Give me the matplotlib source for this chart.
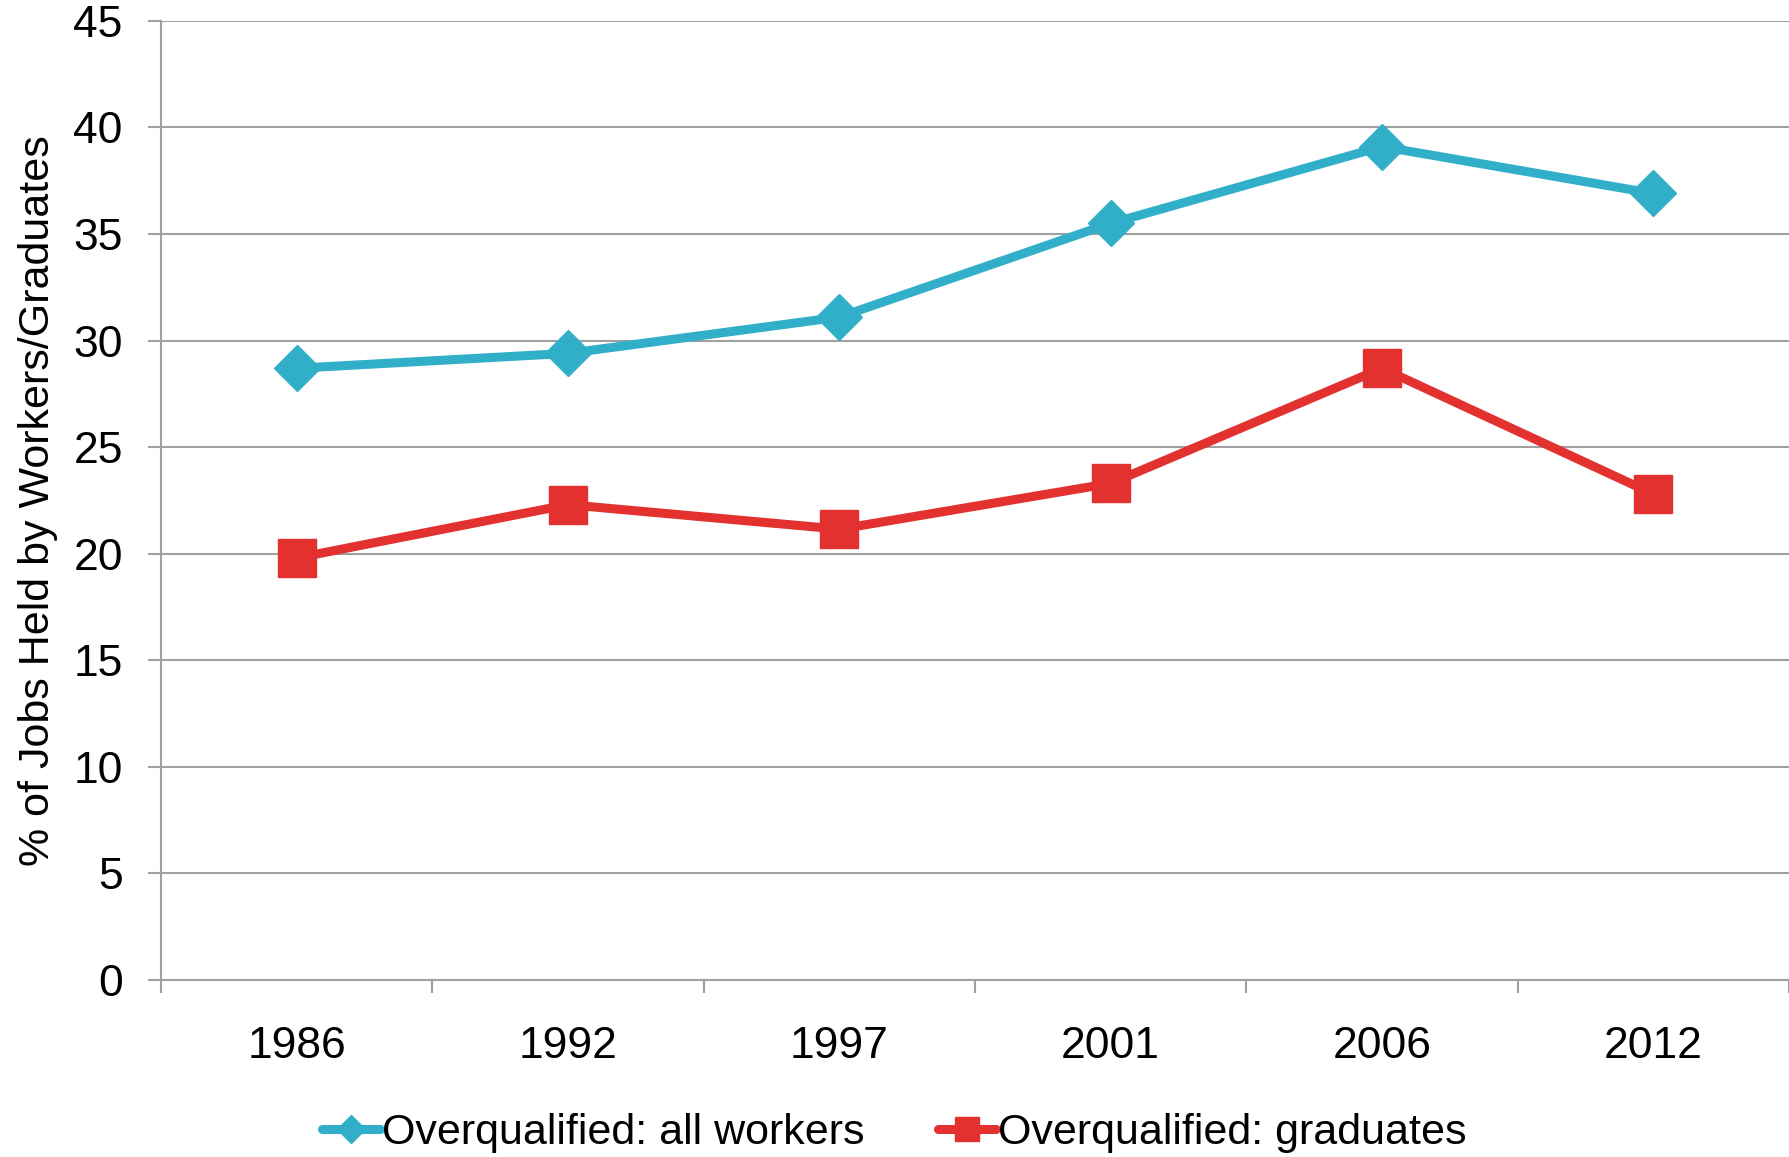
import matplotlib
matplotlib.use('Agg')
from matplotlib import pyplot as plt

# data
years = ['1986', '1992', '1997', '2001', '2006', '2012']
all_workers = [28.7, 29.4, 31.1, 35.5, 39.1, 36.9]
graduates = [19.8, 22.3, 21.15, 23.3, 28.7, 22.8]
y_ticks = [0, 5, 10, 15, 20, 25, 30, 35, 40, 45]

plt.rcParams['font.family'] = ['Liberation Sans', 'DejaVu Sans']

fig = plt.figure(figsize=(17.89, 11.57), dpi=100)
ax = fig.add_axes([0.09, 0.153, 0.91, 0.829])

x = list(range(len(years)))
ax.plot(x, all_workers, color='#31afc9', lw=6.5, marker='D', markersize=23,
        solid_capstyle='round', label='Overqualified: all workers', zorder=3)
ax.plot(x, graduates, color='#e3312f', lw=6.5, marker='s', markersize=28,
        solid_capstyle='round', label='Overqualified: graduates', zorder=3)

grey = '#a0a0a0'
ax.set_ylim(0, 45)
ax.set_yticks(y_ticks)
ax.set_xlim(-0.5, len(years) - 0.5)
ax.set_xticks([i - 0.5 for i in range(len(years) + 1)])
ax.set_xticklabels([])
ax.set_xticks(x, minor=True)
ax.set_xticklabels(years, minor=True)
ax.yaxis.grid(True, color=grey, lw=1.5)
ax.set_axisbelow(True)

for side in ['top', 'right']:
    ax.spines[side].set_visible(False)
for side in ['left', 'bottom']:
    ax.spines[side].set_color(grey)
    ax.spines[side].set_linewidth(1.5)

ax.tick_params(axis='y', length=9.5, width=1.5, color=grey, pad=18, labelsize=32)
ax.tick_params(axis='x', which='major', length=9.5, width=1.5, color=grey)
ax.tick_params(axis='x', which='minor', length=0, pad=33, labelsize=32)

ax.set_ylabel('% of Jobs Held by Workers/Graduates', fontsize=31)
ax.yaxis.set_label_coords(-0.063, 0.5)

fig.legend(loc='center', bbox_to_anchor=(0.5, 0.021), ncol=2, frameon=False,
           fontsize=31, markerscale=0.6, handlelength=1.35, handletextpad=0.05,
           columnspacing=1.7)

fig.savefig('out.png', dpi=100)
